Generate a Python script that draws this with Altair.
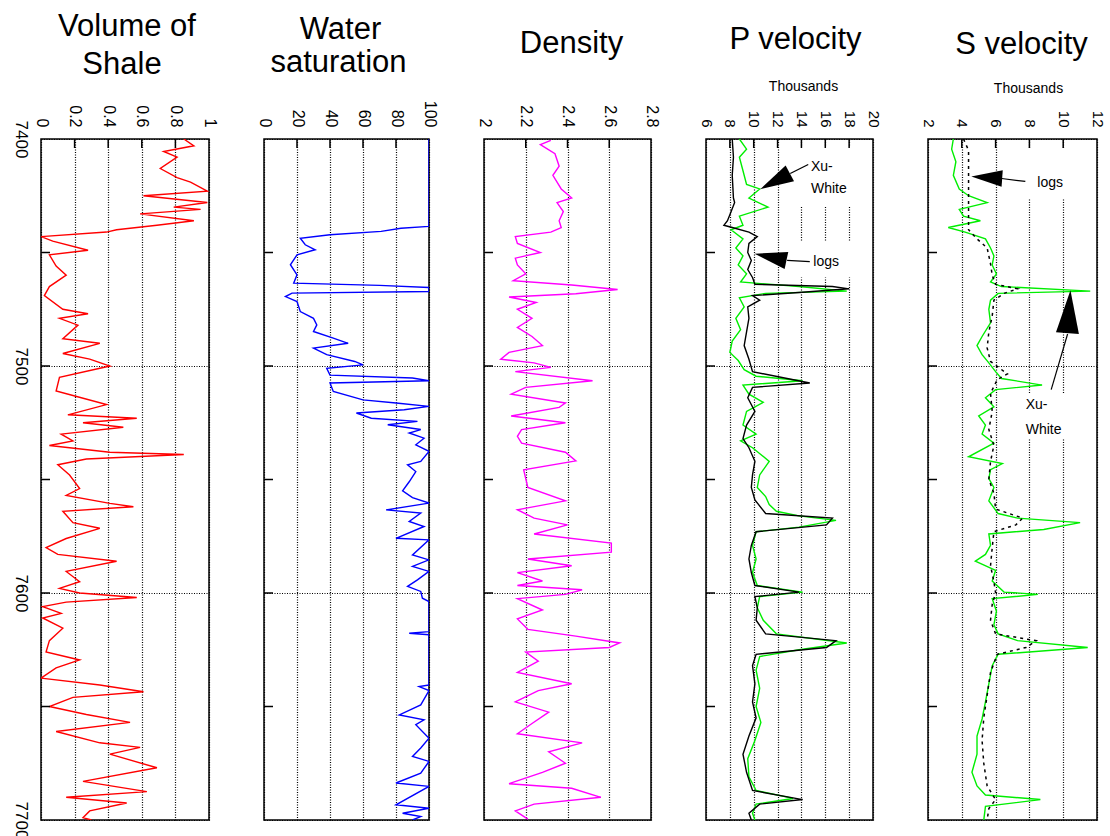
import altair as alt
import pandas as pd

FONT = "Liberation Sans"

# ---------------- data ----------------
vsh_depth = [7400, 7403, 7405.5, 7408, 7413, 7417, 7419, 7423, 7425, 7428,
             7430, 7431, 7433, 7436, 7438, 7440, 7441, 7443, 7445, 7449,
             7451, 7456, 7460, 7465, 7469, 7475, 7477, 7479, 7482, 7488,
             7490, 7494.5, 7497, 7500, 7505, 7511, 7513, 7517, 7521.5, 7523,
             7525, 7527, 7530, 7533, 7535, 7538, 7539, 7541, 7543.5, 7548,
             7554, 7557, 7560.5, 7562, 7564, 7569, 7571.5, 7576, 7580, 7583,
             7586, 7590.5, 7595, 7598, 7600, 7602, 7604, 7606, 7609, 7611,
             7615.5, 7621, 7626, 7629.5, 7633, 7637.5, 7640.5, 7643.5, 7646, 7650,
             7653.5, 7657, 7661, 7666, 7668, 7671, 7677, 7683, 7687.5, 7690,
             7692.5, 7696, 7699, 7700]
vsh_value = [0.85, 0.91, 0.73, 0.81, 0.71, 0.81, 0.89, 0.99, 0.61, 0.99,
             0.79, 0.95, 0.59, 0.91, 0.69, 0.45, 0.39, 0.00, 0.07, 0.28,
             0.05, 0.09, 0.15, 0.05, 0.02, 0.13, 0.28, 0.11, 0.22, 0.13,
             0.35, 0.13, 0.29, 0.41, 0.11, 0.09, 0.19, 0.39, 0.16, 0.57,
             0.25, 0.49, 0.12, 0.19, 0.05, 0.41, 0.85, 0.27, 0.10, 0.17,
             0.23, 0.15, 0.41, 0.55, 0.13, 0.19, 0.35, 0.15, 0.03, 0.10,
             0.45, 0.15, 0.23, 0.11, 0.23, 0.57, 0.15, 0.01, 0.12, 0.01,
             0.13, 0.05, 0.03, 0.23, 0.09, 0.00, 0.35, 0.61, 0.19, 0.05,
             0.27, 0.53, 0.09, 0.35, 0.59, 0.41, 0.69, 0.25, 0.63, 0.15,
             0.51, 0.29, 0.25, 0.30]

sw_depth = [7400, 7438.5, 7439.3, 7440.7, 7442.2, 7443.7, 7446.6, 7448.8, 7451, 7455.4,
            7459.8, 7463.5, 7464.5, 7465.4, 7467.2, 7467.9, 7469.4, 7471.6, 7476, 7479,
            7481.9, 7484.8, 7487.7, 7490, 7492.1, 7495, 7498, 7499.5, 7501, 7504,
            7505.3, 7506.5, 7507.5, 7511.2, 7514.9, 7516.3, 7517.8, 7519.3, 7520.7, 7523,
            7524.4, 7525.9, 7528, 7529.5, 7531.8, 7534.7, 7537.6, 7542, 7543.5, 7546.5,
            7551, 7555, 7558, 7560.4, 7563.4, 7564.8, 7568.5, 7570.7, 7575.9, 7576.6,
            7583.2, 7585.4, 7588.3, 7590.5, 7594.2, 7597.1, 7599.3, 7602.3, 7603.8, 7617,
            7617.7, 7618.4, 7640.5, 7641.2, 7643, 7649.3, 7653.7, 7655.9, 7658, 7664,
            7668.3, 7672, 7674.2, 7679.4, 7683.7, 7685.2, 7693.3, 7694.8, 7697, 7698.5,
            7700]
sw_value = [100, 100, 83, 71, 40, 22, 25, 31, 20, 16,
            20, 18, 70, 100, 100, 17, 13, 20, 22, 30,
            32, 30, 42, 51, 30, 38, 55, 60, 38, 40,
            90, 100, 40, 42, 60, 80, 100, 85, 56, 65,
            93, 75, 95, 88, 97, 92, 100, 95, 87, 92,
            88, 84, 90, 100, 74, 95, 88, 97, 80, 100,
            90, 100, 90, 100, 93, 87, 95, 96, 100, 100,
            88, 100, 100, 94, 100, 95, 82, 97, 92, 100,
            95, 90, 100, 95, 80, 100, 80, 100, 84, 95,
            90]

rho_depth = [7400.6, 7402.5, 7406.5, 7412, 7416, 7422, 7426, 7428, 7432, 7436,
             7439, 7441, 7443, 7446, 7450, 7452.5, 7455.5, 7459.4, 7462.4, 7464.3,
             7466.3, 7468.2, 7469.6, 7472, 7475, 7479, 7483, 7487, 7491, 7494,
             7497, 7498.6, 7500.6, 7502.5, 7506.5, 7509.4, 7512.4, 7516.3, 7518.2, 7522,
             7525, 7528, 7531, 7534, 7538, 7541.8, 7545.7, 7549.6, 7553.5, 7559.4,
             7563.3, 7567, 7570, 7574, 7578, 7582, 7585, 7588, 7591, 7594.7,
             7596.7, 7598.6, 7600.6, 7602.5, 7607.5, 7611.4, 7616, 7619, 7622, 7624,
             7626, 7630, 7635, 7640, 7643, 7648, 7652.5, 7657.5, 7662, 7666,
             7670, 7675, 7679, 7684, 7686, 7690, 7693, 7696, 7699.6]
rho_value = [2.32, 2.27, 2.34, 2.36, 2.33, 2.37, 2.42, 2.35, 2.38, 2.36,
             2.37, 2.32, 2.15, 2.16, 2.27, 2.15, 2.16, 2.20, 2.14, 2.42,
             2.64, 2.44, 2.12, 2.25, 2.16, 2.23, 2.16, 2.23, 2.28, 2.12,
             2.08, 2.24, 2.32, 2.15, 2.52, 2.20, 2.13, 2.39, 2.36, 2.13,
             2.39, 2.18, 2.16, 2.18, 2.39, 2.44, 2.19, 2.20, 2.21, 2.39,
             2.16, 2.24, 2.40, 2.24, 2.61, 2.61, 2.21, 2.42, 2.16, 2.28,
             2.16, 2.47, 2.39, 2.16, 2.28, 2.16, 2.21, 2.44, 2.65, 2.60,
             2.20, 2.26, 2.16, 2.42, 2.26, 2.15, 2.31, 2.23, 2.16, 2.47,
             2.31, 2.39, 2.28, 2.12, 2.42, 2.56, 2.24, 2.15, 2.21]

# P velocity (thousands) - logs (black) and Xu-White (green)
vp_log_depth = [7400, 7408, 7416, 7426, 7428, 7432, 7436, 7438, 7439, 7441,
                7443, 7446, 7450, 7453.5, 7457.5, 7461, 7464, 7465, 7466, 7467.6,
                7469, 7471, 7474, 7479, 7485, 7491, 7497, 7502.5, 7507.5, 7509.4,
                7514, 7520, 7526, 7532, 7536, 7542, 7548, 7553.5, 7559, 7565,
                7567, 7570, 7573, 7579, 7585, 7591, 7596.7, 7599.6, 7601.6, 7606.5,
                7612, 7618, 7621, 7624, 7627, 7632, 7640, 7648, 7655, 7663,
                7671, 7679, 7687, 7691, 7693, 7697, 7700]
vp_log_value = [8.2, 8.3, 8.2, 8.3, 8.4, 8.1, 7.8, 7.5, 8.2, 9.6,
                10.3, 9.6, 9.5, 9.8, 9.5, 9.9, 10.1, 16.6, 18.0, 13.8,
                9.9, 10.5, 9.5, 9.6, 9.4, 9.2, 9.6, 9.9, 14.7, 9.9,
                9.5, 10.1, 9.4, 9.1, 9.6, 10.1, 9.9, 9.8, 10.1, 11.0,
                16.6, 16.1, 10.2, 9.8, 9.6, 9.8, 10.1, 13.8, 10.1, 10.3,
                10.2, 11.0, 16.9, 16.1, 10.2, 9.9, 10.1, 9.9, 10.2, 9.6,
                9.1, 9.4, 9.9, 14.1, 10.5, 9.6, 9.8]
vp_xw_depth = [7400, 7404.5, 7408, 7414, 7420, 7422, 7426, 7430, 7434, 7438,
               7440, 7444, 7448, 7451.5, 7455.5, 7459.4, 7463, 7465, 7467, 7468,
               7470, 7474, 7479, 7484, 7489, 7494, 7497.6, 7501.6, 7504.5, 7506.5,
               7508.4, 7512.4, 7516, 7520, 7526, 7530, 7533, 7536, 7542, 7548,
               7553.5, 7557.5, 7561, 7564, 7566, 7568, 7571, 7573, 7579, 7585,
               7591, 7596.7, 7599.6, 7601.6, 7606.5, 7612, 7618, 7622, 7625, 7628,
               7634, 7642, 7650, 7657, 7665, 7673, 7681, 7687, 7690.5, 7693,
               7697, 7700]
vp_xw_value = [8.8, 9.4, 8.8, 9.1, 9.4, 10.5, 9.6, 11.2, 8.8, 9.1,
               8.1, 9.1, 8.5, 9.1, 8.7, 9.4, 8.9, 13.8, 17.8, 11.0,
               8.8, 9.2, 8.5, 8.9, 8.2, 8.0, 8.7, 9.2, 10.2, 14.1,
               9.1, 9.6, 10.8, 9.4, 9.1, 10.2, 8.9, 9.9, 11.3, 10.5,
               10.3, 11.0, 11.3, 11.9, 13.8, 16.9, 13.8, 10.2, 9.9, 10.2,
               9.9, 10.3, 14.1, 10.5, 10.3, 10.8, 11.9, 17.8, 13.8, 10.5,
               10.2, 10.5, 10.2, 10.6, 10.1, 9.5, 9.6, 10.2, 13.3, 10.2,
               9.9, 10.1]

# S velocity (thousands)
vs_log_depth = [7400, 7405, 7440, 7444, 7448, 7455, 7460, 7464, 7466, 7468,
                7471, 7478, 7485, 7492, 7498, 7503.5, 7506, 7512, 7520, 7528,
                7535, 7542, 7550, 7556, 7563, 7567, 7570, 7573, 7580, 7588,
                7595, 7600, 7605, 7612, 7618, 7621, 7624, 7627, 7635, 7645,
                7655, 7665, 7675, 7685, 7691, 7695, 7700]
vs_log_value = [4.1, 4.4, 4.4, 4.9, 5.5, 5.7, 5.8, 6.0, 7.3, 6.5,
                5.9, 5.8, 5.6, 5.5, 5.7, 6.7, 6.1, 5.7, 5.8, 5.6,
                5.9, 5.7, 5.6, 5.9, 6.0, 7.6, 7.2, 5.9, 5.8, 5.7,
                5.9, 6.0, 5.8, 5.7, 6.0, 8.4, 7.8, 6.1, 5.7, 5.5,
                5.3, 5.2, 5.3, 5.5, 6.0, 5.6, 5.5]
vs_xw_depth = [7400, 7404.5, 7410, 7416, 7422, 7425, 7428, 7431, 7434, 7436,
               7439, 7441, 7444, 7448, 7451.5, 7455.5, 7459.4, 7463, 7465, 7467,
               7468, 7471, 7475, 7481, 7487, 7491, 7495, 7498.6, 7502.5, 7505.5,
               7508.4, 7510.4, 7514, 7518, 7522, 7526, 7530, 7534, 7540, 7543,
               7545.7, 7549.6, 7553.5, 7559.4, 7565, 7567, 7569, 7572, 7574, 7579,
               7583, 7586, 7590, 7594.7, 7599.6, 7600.6, 7602.5, 7608, 7614, 7618,
               7621, 7624, 7627, 7632, 7640, 7648, 7655.5, 7663, 7671, 7679,
               7685, 7689, 7691, 7694, 7700]
vs_xw_value = [3.5, 3.4, 3.65, 3.5, 3.85, 4.4, 5.5, 3.85, 4.1, 5.1,
               3.2, 4.2, 5.4, 5.7, 5.9, 5.8, 6.05, 5.7, 6.35, 11.6,
               6.15, 5.7, 5.6, 5.7, 5.2, 4.9, 5.2, 5.6, 6.0, 6.35,
               8.75, 6.0, 5.4, 5.9, 5.0, 5.4, 5.2, 5.9, 4.4, 6.4,
               5.7, 5.6, 5.9, 5.6, 6.15, 7.3, 11.0, 8.85, 5.6, 5.7,
               5.4, 4.8, 6.0, 5.8, 6.5, 8.5, 5.8, 6.05, 5.9, 6.15,
               7.3, 11.45, 6.15, 5.8, 5.6, 5.4, 5.2, 4.9, 4.9, 4.6,
               4.9, 5.4, 8.65, 5.4, 5.3]

# axes
depth_domain = [7400, 7700]
depth_labels = [7400, 7500, 7600, 7700]
depth_minor = [7450, 7500, 7550, 7600, 7650]
vsh_ticks = [0, 0.2, 0.4, 0.6, 0.8, 1]
sw_ticks = [0, 20, 40, 60, 80, 100]
rho_ticks = [2, 2.2, 2.4, 2.6, 2.8]
vp_ticks = [6, 8, 10, 12, 14, 16, 18, 20]
vs_ticks = [2, 4, 6, 8, 10, 12]

# annotations (P velocity)
vp_note_text = ["Xu-", "White", "logs"]
vp_note_x = [14.8, 14.8, 15.0]
vp_note_d = [7412.5, 7422.2, 7454]
vp_head_x = [12.2, 11.85]
vp_head_d = [7417.5, 7452.5]
vp_head_angle = [242, 282]
vp_head_size = [2000, 1900]
vp_shaft_x = [13.06, 12.8]
vp_shaft_d = [7415.2, 7453.5]
vp_shaft_x2 = [14.57, 14.7]
vp_shaft_d2 = [7411.2, 7454]
vp_box_x = [13.0, 13.2]
vp_box_x2 = [19.7, 19.7]
vp_box_d = [7403.5, 7445]
vp_box_d2 = [7429.5, 7461]

# annotations (S velocity)
vs_note_text = ["logs", "Xu-", "White"]
vs_note_x = [8.47, 7.78, 7.78]
vs_note_d = [7419.5, 7517, 7528]
vs_head_x = [5.78, 10.31]
vs_head_d = [7417.1, 7479.2]
vs_head_angle = [274, 4]
vs_head_size = [1700, 3300]
vs_shaft_x = [6.36, 10.26]
vs_shaft_d = [7417.4, 7485.9]
vs_shaft_x2 = [7.76, 9.29]
vs_shaft_d2 = [7418.7, 7510.4]
vs_box_x = [7.3, 7.6]
vs_box_x2 = [11.8, 10.9]
vs_box_d = [7404, 7512]
vs_box_d2 = [7426, 7532]

PLOT_H = 681
ARROW = "M0,-1L0.4,0.5L-0.4,0.5Z"
one = pd.DataFrame({"k": [0]})


def make_x_axis(ticks, lsize):
    return alt.Axis(orient="top", values=ticks, format="~f", labelAngle=90,
                    labelAlign="right", labelBaseline="middle", labelPadding=12,
                    labelFontSize=lsize, labelFont=FONT, labelColor="black",
                    labelFlush=False, labelOverlap=False, ticks=False, domain=False,
                    grid=True, gridColor="black", gridDash=[1, 1.5], gridWidth=1.2,
                    gridOpacity=1, title=None)


def make_y_axis(labels):
    return alt.Axis(values=depth_labels, format="d", labelAngle=90, labelAlign="center",
                    labelBaseline="top", labelPadding=13, labelFontSize=17,
                    labelFont=FONT, labelColor="black", labels=labels,
                    labelFlush=False, labelOverlap=False, ticks=False, domain=False,
                    grid=True, gridColor="black", gridDash=[1, 1.5], gridWidth=1.2,
                    gridOpacity=1, title=None)


def title_layer(text, px, py, size=31):
    return alt.Chart(one).mark_text(text=text, font=FONT, fontSize=size, align="center",
                                    baseline="alphabetic", color="black").encode(
        x=alt.value(px), y=alt.value(py))


def panel(width, dom, ticks, lsize, curves, labels, titles, notes=None, sub=None):
    xscale = alt.Scale(domain=dom, nice=False, zero=False)
    yscale = alt.Scale(domain=depth_domain, reverse=True, nice=False, zero=False)
    xax = make_x_axis(ticks, lsize)
    yax = make_y_axis(labels)

    def X(f):
        return alt.X(f, type="quantitative", scale=xscale, axis=xax)

    def Y(f):
        return alt.Y(f, type="quantitative", scale=yscale, axis=yax)

    layers = []
    if notes is not None:
        boxes = pd.DataFrame({"x": notes["box_x"], "x2": notes["box_x2"],
                              "d": notes["box_d"], "d2": notes["box_d2"]})
        layers.append(alt.Chart(boxes).mark_rect(color="white").encode(
            x=X("x"), x2="x2:Q", y=Y("d"), y2="d2:Q"))
    for dep, val, color, dash, sw in curves:
        df = pd.DataFrame({"d": dep, "v": val})
        mk = dict(color=color, strokeWidth=sw, clip=True)
        if dash:
            mk["strokeDash"] = dash
        layers.append(alt.Chart(df).mark_line(**mk).encode(x=X("v"), y=Y("d"), order="d:Q"))
    inner = ticks[1:-1]
    top_df = pd.DataFrame({"v": inner, "d": [depth_domain[0]] * len(inner)})
    layers.append(alt.Chart(top_df).mark_rule(color="black", strokeWidth=1.5, y2Offset=9).encode(
        x=X("v"), y=Y("d"), y2="d:Q"))
    left_df = pd.DataFrame({"v": [dom[0]] * len(depth_minor), "d": depth_minor})
    layers.append(alt.Chart(left_df).mark_rule(color="black", strokeWidth=1.5, x2Offset=9).encode(
        x=X("v"), x2="v:Q", y=Y("d")))
    if notes is not None:
        shafts = pd.DataFrame({"x": notes["shaft_x"], "x2": notes["shaft_x2"],
                               "d": notes["shaft_d"], "d2": notes["shaft_d2"]})
        layers.append(alt.Chart(shafts).mark_rule(color="black", strokeWidth=1.2).encode(
            x=X("x"), x2="x2:Q", y=Y("d"), y2="d2:Q"))
        heads = pd.DataFrame({"x": notes["head_x"], "d": notes["head_d"],
                              "a": notes["head_angle"], "s": notes["head_size"]})
        layers.append(alt.Chart(heads).mark_point(shape=ARROW, filled=True, color="black",
                                                  opacity=1, strokeWidth=0).encode(
            x=X("x"), y=Y("d"),
            angle=alt.Angle("a:Q", scale=None), size=alt.Size("s:Q", scale=None, legend=None)))
        txt = pd.DataFrame({"x": notes["text_x"], "d": notes["text_d"], "t": notes["text"]})
        layers.append(alt.Chart(txt).mark_text(align="left", baseline="middle", font=FONT,
                                               fontSize=14, color="black").encode(
            x=X("x"), y=Y("d"), text="t:N"))
    for (t, dx, py) in titles:
        layers.append(title_layer(t, width / 2 + dx, py))
    if sub is not None:
        layers.append(title_layer("Thousands", width / 2 + sub[0], sub[1], size=14))
    return alt.layer(*layers).properties(width=width, height=PLOT_H)


p1 = panel(168, [0, 1], vsh_ticks, 16,
           [(vsh_depth, vsh_value, "#ff0000", None, 1.4)], True,
           [("Volume of", 2, -103), ("Shale", -3, -65)])
p2 = panel(165, [0, 100], sw_ticks, 16,
           [(sw_depth, sw_value, "#0000ff", None, 1.4)], False,
           [("Water", -6, -100), ("saturation", -8, -67)])
p3 = panel(167, [2, 2.8], rho_ticks, 16,
           [(rho_depth, rho_value, "#ff00ff", None, 1.4)], False,
           [("Density", 4, -86)])
p4 = panel(167, [6, 20], vp_ticks, 15,
           [(vp_xw_depth, vp_xw_value, "#00ee00", None, 1.4),
            (vp_log_depth, vp_log_value, "black", None, 1.4)], False,
           [("P velocity", 6, -90)],
           notes=dict(text=vp_note_text, text_x=vp_note_x, text_d=vp_note_d,
                      head_x=vp_head_x, head_d=vp_head_d, head_angle=vp_head_angle,
                      head_size=vp_head_size, shaft_x=vp_shaft_x, shaft_d=vp_shaft_d,
                      shaft_x2=vp_shaft_x2, shaft_d2=vp_shaft_d2, box_x=vp_box_x,
                      box_x2=vp_box_x2, box_d=vp_box_d, box_d2=vp_box_d2),
           sub=(14, -48))
p5 = panel(169, [2, 12], vs_ticks, 15,
           [(vs_xw_depth, vs_xw_value, "#00ee00", None, 1.4),
            (vs_log_depth, vs_log_value, "black", [3, 4], 1.5)], False,
           [("S velocity", 9, -85)],
           notes=dict(text=vs_note_text, text_x=vs_note_x, text_d=vs_note_d,
                      head_x=vs_head_x, head_d=vs_head_d, head_angle=vs_head_angle,
                      head_size=vs_head_size, shaft_x=vs_shaft_x, shaft_d=vs_shaft_d,
                      shaft_x2=vs_shaft_x2, shaft_d2=vs_shaft_d2, box_x=vs_box_x,
                      box_x2=vs_box_x2, box_d=vs_box_d, box_d2=vs_box_d2),
           sub=(16, -46))

chart = alt.hconcat(p1, p2, p3, p4, p5, spacing=55, bounds="flush").configure_view(
    stroke="black", strokeWidth=1.5, fill="white"
).properties(
    background="white",
    padding={"left": 11, "top": 10, "right": 5, "bottom": 5},
)

chart.save("out.html", embed_options={"renderer": "svg", "actions": False})
